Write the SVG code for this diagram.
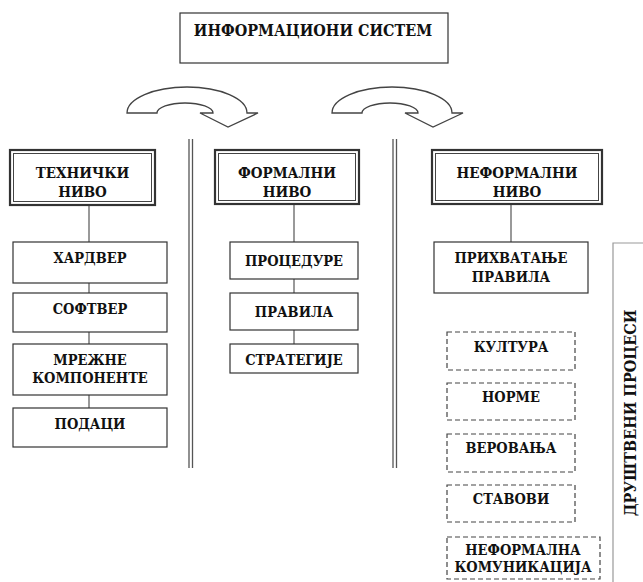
<svg xmlns="http://www.w3.org/2000/svg" width="643" height="582" viewBox="0 0 643 582">
  <style>
    .box { fill: #fff; stroke: #333; stroke-width: 1.2; }
    .dash { fill: #fff; stroke: #444; stroke-width: 1.2; stroke-dasharray: 5 3; }
    .hdr-out { fill: #fff; stroke: #333; stroke-width: 2.2; }
    .hdr-in { fill: none; stroke: #444; stroke-width: 1; }
    .conn { stroke: #555; stroke-width: 1.2; fill: none; }
    .sep { stroke: #555; stroke-width: 1.3; fill: none; }
    .curve { fill: #fff; stroke: #444; stroke-width: 1.3; stroke-linejoin: miter; }
    .hdr { font-size: 15px; }
  </style>

  <g font-family="DejaVu Serif Condensed, DejaVu Serif, serif" font-stretch="condensed" font-weight="bold" font-size="14.5" fill="#111" text-anchor="middle">

  <!-- title -->
  <g id="title">
    <rect class="box" x="180" y="13" width="268" height="50"/>
    <text x="313" y="36" font-size="16">ИНФОРМАЦИОНИ  СИСТЕМ</text>
  </g>

  <!-- curved arrows -->
  <g id="arrow-1">
    <path class="curve" d="M127,113 A60,26 0 0 1 247,113 L258,113 L228,127 L200,113 L213,113 A28,10 0 0 0 157,113 Z"/>
  </g>
  <g id="arrow-2">
    <path class="curve" d="M332,113 A60,26 0 0 1 452,113 L463,113 L433,127 L405,113 L418,113 A28,10 0 0 0 362,113 Z"/>
  </g>

  <!-- column separators -->
  <g id="separators">
    <line class="sep" x1="189" y1="139" x2="189" y2="468"/>
    <line class="sep" x1="192.5" y1="139" x2="192.5" y2="468"/>
    <line class="sep" x1="393" y1="139" x2="393" y2="468"/>
    <line class="sep" x1="396.5" y1="139" x2="396.5" y2="468"/>
  </g>

  <!-- connectors -->
  <g id="connectors">
    <line class="conn" x1="89" y1="205" x2="89" y2="242"/>
    <line class="conn" x1="89" y1="283" x2="89" y2="293"/>
    <line class="conn" x1="89" y1="332" x2="89" y2="344"/>
    <line class="conn" x1="89" y1="395" x2="89" y2="408"/>
    <line class="conn" x1="294" y1="204" x2="294" y2="242"/>
    <line class="conn" x1="294" y1="279" x2="294" y2="293"/>
    <line class="conn" x1="294" y1="330" x2="294" y2="344"/>
    <line class="conn" x1="511" y1="204" x2="511" y2="242"/>
  </g>

  <!-- technical level -->
  <g id="technical">
    <rect class="hdr-out" x="10" y="150" width="145" height="55"/>
    <rect class="hdr-in" x="13.5" y="153.5" width="138" height="48"/>
    <text class="hdr" x="82.5" y="178">ТЕХНИЧКИ</text>
    <text class="hdr" x="82.5" y="197">НИВО</text>
  </g>
  <g id="hardware">
    <rect class="box" x="13" y="242" width="154" height="41"/>
    <text x="90" y="263">ХАРДВЕР</text>
  </g>
  <g id="software">
    <rect class="box" x="13" y="293" width="154" height="39"/>
    <text x="90" y="314">СОФТВЕР</text>
  </g>
  <g id="network">
    <rect class="box" x="13" y="344" width="154" height="51"/>
    <text x="90" y="365">МРЕЖНЕ</text>
    <text x="90" y="383">КОМПОНЕНТЕ</text>
  </g>
  <g id="data">
    <rect class="box" x="13" y="408" width="154" height="39"/>
    <text x="90" y="429">ПОДАЦИ</text>
  </g>

  <!-- formal level -->
  <g id="formal">
    <rect class="hdr-out" x="215" y="150" width="144" height="54"/>
    <rect class="hdr-in" x="218.5" y="153.5" width="137" height="47"/>
    <text class="hdr" x="287" y="178">ФОРМАЛНИ</text>
    <text class="hdr" x="287" y="197">НИВО</text>
  </g>
  <g id="procedures">
    <rect class="box" x="230" y="242" width="128" height="37"/>
    <text x="294" y="266">ПРОЦЕДУРЕ</text>
  </g>
  <g id="rules">
    <rect class="box" x="230" y="293" width="128" height="37"/>
    <text x="294" y="317">ПРАВИЛА</text>
  </g>
  <g id="strategies">
    <rect class="box" x="230" y="344" width="128" height="29"/>
    <text x="294" y="365">СТРАТЕГИЈЕ</text>
  </g>

  <!-- informal level -->
  <g id="informal">
    <rect class="hdr-out" x="432" y="150" width="170" height="54"/>
    <rect class="hdr-in" x="435.5" y="153.5" width="163" height="47"/>
    <text class="hdr" x="517" y="178">НЕФОРМАЛНИ</text>
    <text class="hdr" x="517" y="197">НИВО</text>
  </g>
  <g id="acceptance">
    <rect class="box" x="434" y="242" width="154" height="51"/>
    <text x="511" y="263">ПРИХВАТАЊЕ</text>
    <text x="511" y="282">ПРАВИЛА</text>
  </g>

  <!-- social processes -->
  <g id="culture">
    <rect class="dash" x="447" y="332" width="128" height="38"/>
    <text x="511" y="352">КУЛТУРА</text>
  </g>
  <g id="norms">
    <rect class="dash" x="447" y="383" width="128" height="37"/>
    <text x="511" y="402">НОРМЕ</text>
  </g>
  <g id="beliefs">
    <rect class="dash" x="447" y="434" width="128" height="38"/>
    <text x="511" y="453">ВЕРОВАЊА</text>
  </g>
  <g id="attitudes">
    <rect class="dash" x="447" y="485" width="128" height="37"/>
    <text x="511" y="504">СТАВОВИ</text>
  </g>
  <g id="informal-communication">
    <rect class="dash" x="447" y="537" width="153" height="42"/>
    <text x="523" y="555">НЕФОРМАЛНА</text>
    <text x="523" y="572">КОМУНИКАЦИЈА</text>
  </g>

  <g id="social-processes">
    <polyline points="643,243 613,243 613,582" fill="none" stroke="#999" stroke-width="1.2"/>
    <text transform="translate(636,413) rotate(-90)" x="0" y="0" font-size="16">ДРУШТВЕНИ ПРОЦЕСИ</text>
  </g>
  </g>
</svg>
